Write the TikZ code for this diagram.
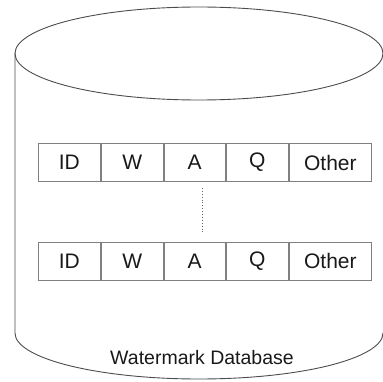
\documentclass[tikz,border=0pt]{standalone}
\usepackage{fontspec}
\setmainfont{Liberation Sans}
\usetikzlibrary{positioning}

\begin{document}
\begin{tikzpicture}[
    x=1pt, y=1pt,
    every node/.style={text=black!90},
    cell/.style={draw=black!50, line width=0.9pt, rectangle, inner sep=0pt, minimum height=38pt, font=\fontsize{21}{24}\selectfont},
    dbline/.style={draw=black!70, line width=0.9pt}
]

    % --------------------------------------------------------
    % 1. THE DATABASE CYLINDER
    % --------------------------------------------------------
    \useasboundingbox (0,0) rectangle (383,381);
    \clip (0,0) rectangle (383,381);

    \draw [dbline] (199,327.5) ellipse [x radius=184, y radius=46.5];
    \draw [dbline] (15,327.5) -- (15,48)
        arc [start angle=180, end angle=360, x radius=184, y radius=46];

    \node (dblabel) at (202,23) {\fontsize{19.5}{22}\selectfont Watermark Database};

    % --------------------------------------------------------
    % 2. THE TWO RECORDS
    % --------------------------------------------------------

    % first record
    \node (id1) [cell, minimum width=62.3pt, anchor=west] at (37.7,218.5) {ID};
    \node (w1) [cell, minimum width=61.7pt, right=0pt of id1] {W};
    \node (a1) [cell, minimum width=61.6pt, right=0pt of w1] {A};
    \node (q1) [cell, minimum width=61.7pt, right=0pt of a1] {Q};
    \node (other1) [cell, minimum width=82.7pt, right=0pt of q1] {Other};

    % last record
    \node (id2) [cell, minimum width=62.3pt, anchor=west] at (37.7,120) {ID};
    \node (w2) [cell, minimum width=61.7pt, right=0pt of id2] {W};
    \node (a2) [cell, minimum width=61.6pt, right=0pt of w2] {A};
    \node (q2) [cell, minimum width=61.7pt, right=0pt of a2] {Q};
    \node (other2) [cell, minimum width=82.7pt, right=0pt of q2] {Other};

    % the records in between
    \draw [black!60, dotted, line width=0.9pt]
        ([xshift=7.5pt, yshift=-6pt]a1.south) -- ([xshift=7.5pt, yshift=9pt]a2.north);

\end{tikzpicture}
\end{document}
